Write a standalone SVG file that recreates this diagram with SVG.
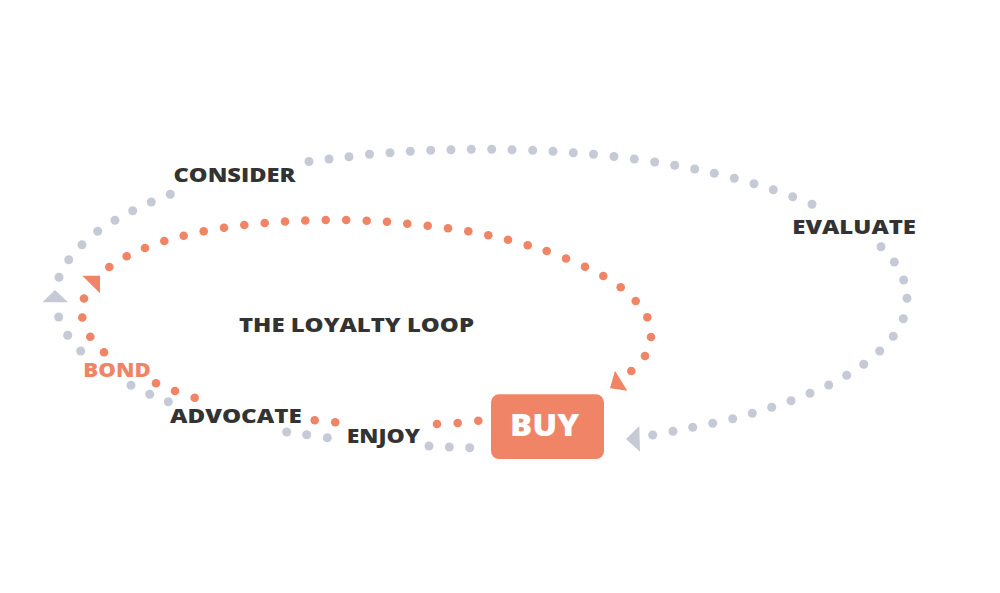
<svg xmlns="http://www.w3.org/2000/svg" width="1000" height="593" viewBox="0 0 1000 593">
<style>
.g{fill:#c5cad6}
.o{fill:#ef8466}
.t{font-family:"Open Sans","DejaVu Sans",sans-serif;font-weight:800;font-size:20px;fill:#333333}
.to{font-family:"Open Sans","DejaVu Sans",sans-serif;font-weight:800;font-size:20px;fill:#ef8466}
.tw{font-family:"Open Sans","DejaVu Sans",sans-serif;font-weight:800;font-size:30px;fill:#ffffff}
</style>
<rect width="1000" height="593" fill="#ffffff"/>
<g id="connectors">
<g id="outer-loop" class="g">
<circle cx="309" cy="161.5" r="4.5"/><circle cx="329" cy="159" r="4.5"/><circle cx="349" cy="156.7" r="4.5"/><circle cx="369.5" cy="154.3" r="4.5"/><circle cx="390" cy="152.7" r="4.5"/><circle cx="410.3" cy="151.3" r="4.5"/><circle cx="430.7" cy="150.3" r="4.5"/><circle cx="451" cy="149.7" r="4.5"/><circle cx="471.3" cy="149.3" r="4.5"/><circle cx="491.7" cy="149.3" r="4.5"/><circle cx="512" cy="149.7" r="4.5"/><circle cx="532.7" cy="150.3" r="4.5"/><circle cx="553" cy="151.3" r="4.5"/><circle cx="573.3" cy="152.7" r="4.5"/><circle cx="593.5" cy="154.3" r="4.5"/><circle cx="614" cy="156.5" r="4.5"/><circle cx="634.3" cy="159" r="4.5"/><circle cx="654.7" cy="162" r="4.5"/><circle cx="674.7" cy="165.3" r="4.5"/><circle cx="694.7" cy="169" r="4.5"/><circle cx="714.3" cy="173.3" r="4.5"/><circle cx="734.3" cy="178.3" r="4.5"/><circle cx="754" cy="183.7" r="4.5"/><circle cx="773.3" cy="189.7" r="4.5"/><circle cx="792.7" cy="196.7" r="4.5"/><circle cx="812" cy="204.3" r="4.5"/>
<circle cx="881" cy="246.7" r="4.5"/><circle cx="894.3" cy="262" r="4.5"/><circle cx="903.7" cy="280" r="4.5"/><circle cx="907" cy="298.3" r="4.5"/><circle cx="903.3" cy="318.7" r="4.5"/><circle cx="893.3" cy="336.3" r="4.5"/><circle cx="879.7" cy="351" r="4.5"/><circle cx="863.7" cy="364.3" r="4.5"/><circle cx="846.7" cy="375.3" r="4.5"/><circle cx="828.7" cy="385" r="4.5"/><circle cx="810" cy="393.3" r="4.5"/><circle cx="791" cy="400.7" r="4.5"/><circle cx="771.7" cy="407.3" r="4.5"/><circle cx="752.3" cy="413.3" r="4.5"/><circle cx="732.7" cy="418.7" r="4.5"/><circle cx="712.7" cy="423.3" r="4.5"/><circle cx="692.7" cy="427.3" r="4.5"/><circle cx="673" cy="431.3" r="4.5"/><circle cx="652.7" cy="435" r="4.5"/>
<circle cx="170.3" cy="194.3" r="4.5"/><circle cx="151.3" cy="202" r="4.5"/><circle cx="132.7" cy="210.7" r="4.5"/><circle cx="115" cy="220.3" r="4.5"/><circle cx="97.7" cy="231.3" r="4.5"/><circle cx="82" cy="244.7" r="4.5"/><circle cx="68.7" cy="259.7" r="4.5"/><circle cx="59" cy="277.3" r="4.5"/>
<circle cx="58.7" cy="317" r="4.5"/><circle cx="67.7" cy="335.3" r="4.5"/><circle cx="80.7" cy="351" r="4.5"/><circle cx="131" cy="385.3" r="4.5"/><circle cx="149.7" cy="394.3" r="4.5"/><circle cx="168.3" cy="401.7" r="4.5"/><circle cx="286.7" cy="432" r="4.5"/><circle cx="306.7" cy="434.7" r="4.5"/><circle cx="327.3" cy="437.7" r="4.5"/><circle cx="429" cy="446" r="4.5"/><circle cx="449.3" cy="447" r="4.5"/><circle cx="469.7" cy="447.7" r="4.5"/>
<polygon points="626,439 639.3,426 640,451.7"/>
<polygon points="42.3,302.3 55,290 68,302.3"/>
</g>
<g id="inner-loop" class="o">
<circle cx="84" cy="298.5" r="4.3"/><circle cx="82.3" cy="317.5" r="4.3"/><circle cx="90.3" cy="336.7" r="4.3"/><circle cx="104" cy="352.3" r="4.3"/><circle cx="156" cy="383.3" r="4.3"/><circle cx="175" cy="391" r="4.3"/><circle cx="194.7" cy="397.7" r="4.3"/><circle cx="314.7" cy="420.3" r="4.3"/><circle cx="335.2" cy="422.3" r="4.3"/><circle cx="437" cy="424" r="4.3"/><circle cx="457.7" cy="423" r="4.3"/><circle cx="478.3" cy="420.7" r="4.3"/>
<circle cx="109.3" cy="267" r="4.3"/><circle cx="126.7" cy="256.3" r="4.3"/><circle cx="145" cy="248" r="4.3"/><circle cx="164.3" cy="241" r="4.3"/><circle cx="183.7" cy="235.7" r="4.3"/><circle cx="203.7" cy="231.3" r="4.3"/><circle cx="224" cy="227.7" r="4.3"/><circle cx="244.3" cy="225" r="4.3"/><circle cx="264.7" cy="223" r="4.3"/><circle cx="285" cy="221.5" r="4.3"/><circle cx="305.3" cy="220.5" r="4.3"/><circle cx="325.7" cy="220" r="4.3"/><circle cx="346.2" cy="220" r="4.3"/><circle cx="366.7" cy="220.7" r="4.3"/><circle cx="387" cy="221.7" r="4.3"/><circle cx="407.3" cy="223.7" r="4.3"/><circle cx="427.7" cy="225.7" r="4.3"/><circle cx="448" cy="228.3" r="4.3"/><circle cx="468.3" cy="231.3" r="4.3"/><circle cx="488.3" cy="235.3" r="4.3"/><circle cx="508" cy="239.7" r="4.3"/><circle cx="527.7" cy="245.3" r="4.3"/><circle cx="546.7" cy="251" r="4.3"/><circle cx="566" cy="258.5" r="4.3"/><circle cx="585" cy="266.7" r="4.3"/><circle cx="603.3" cy="276" r="4.3"/><circle cx="620.7" cy="287.3" r="4.3"/><circle cx="635.7" cy="301" r="4.3"/><circle cx="647.3" cy="317.3" r="4.3"/><circle cx="651" cy="337" r="4.3"/><circle cx="645" cy="356" r="4.3"/><circle cx="631.3" cy="371" r="4.3"/>
<polygon points="610,388.3 615,370.7 627.3,390.7"/>
<polygon points="82.3,275.7 100,275.7 100,293.3"/>
</g>
</g>
<g id="title"><text class="t" x="239" y="332" textLength="235" lengthAdjust="spacingAndGlyphs">THE LOYALTY LOOP</text></g>
<g id="consider"><text class="t" x="173.5" y="181.7" textLength="122" lengthAdjust="spacingAndGlyphs">CONSIDER</text></g>
<g id="evaluate"><text class="t" x="792.3" y="234.3" textLength="123.7" lengthAdjust="spacingAndGlyphs">EVALUATE</text></g>
<g id="buy">
<rect x="491" y="394.3" width="113" height="64.7" rx="8" ry="8" class="o"/>
<text class="tw" x="510" y="435.5" font-size="31" textLength="69.3" lengthAdjust="spacingAndGlyphs">BUY</text>
</g>
<g id="enjoy"><text class="t" x="346.7" y="442.7" textLength="73.3" lengthAdjust="spacingAndGlyphs">ENJOY</text></g>
<g id="advocate"><text class="t" x="170" y="422.7" textLength="131.7" lengthAdjust="spacingAndGlyphs">ADVOCATE</text></g>
<g id="bond"><text class="to" x="83.3" y="376.7" textLength="67.4" lengthAdjust="spacingAndGlyphs">BOND</text></g>
</svg>
